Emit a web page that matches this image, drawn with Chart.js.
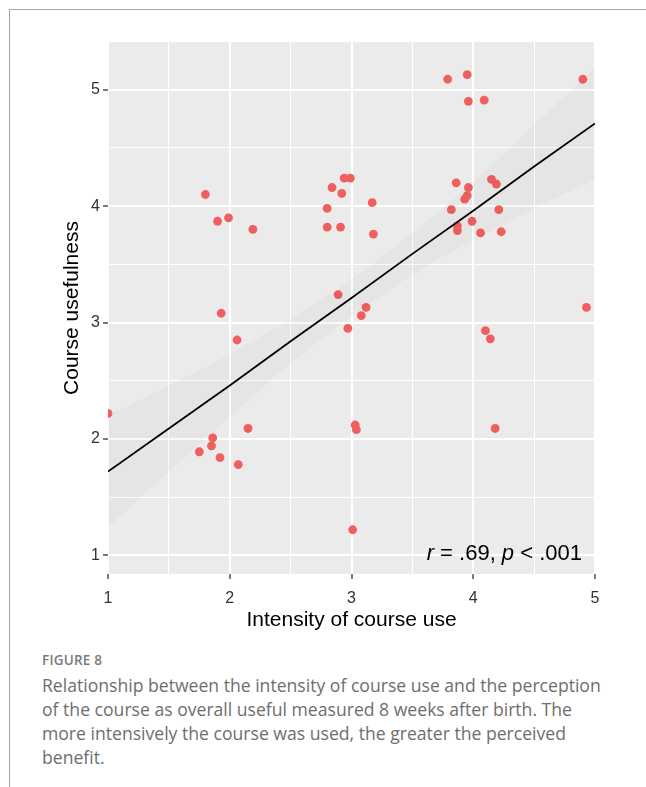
<!DOCTYPE html>
<html>
<head>
<meta charset="utf-8">
<script src="https://cdn.jsdelivr.net/npm/chart.js@4.4.0/dist/chart.umd.min.js"></script>
<style>
  body { margin: 0; background: #fff; }
  #page { position: relative; width: 646px; height: 787px; overflow: hidden; }
  #frame { position: absolute; left: 9px; top: 9px; right: -2px; bottom: -2px;
           border-top: 1px solid #a6a6a6; border-left: 1px solid #a6a6a6; }
  #chart-1 { position: absolute; left: 0; top: 0; }
  #fig { position: absolute; left: 42px; top: 651px; font-family: "Open Sans", sans-serif;
         font-size: 13.5px; font-weight: 600; color: #7a7a7a; letter-spacing: 0.2px; }
  #caption { position: absolute; left: 42px; top: 673px; width: 572px; font-family: "Open Sans", sans-serif;
             font-size: 17.6px; line-height: 24px; color: #6e6e6e; }
</style>
</head>
<body>
<div id="page">
  <div id="frame"></div>
  <canvas id="chart-1" width="646" height="640"></canvas>
  <div id="fig">FIGURE 8</div>
  <div id="caption">Relationship between the intensity of course use and the perception of the course as overall useful measured 8 weeks after birth. The more intensively the course was used, the greater the perceived benefit.</div>
</div>
<script>
// intensity of course use (x) and course usefulness (y), one per participant
const usageX = [1.80,1.90,1.99,2.19,2.80,2.84,2.92,2.94,2.99,2.80,2.91,2.89,1.93,3.79,3.95,3.96,4.09,4.90,3.17,3.18,3.86,3.96,3.95,3.93,4.15,4.19,3.82,4.21,3.99,3.87,3.87,4.06,4.23,3.12,4.93,2.97,2.06,1.00,2.15,1.86,1.85,1.75,1.92,2.07,3.08,4.10,4.14,3.03,3.04,4.18,3.01];
const usefulY = [4.10,3.87,3.90,3.80,3.98,4.16,4.11,4.24,4.24,3.82,3.82,3.24,3.08,5.09,5.13,4.90,4.91,5.09,4.03,3.76,4.20,4.16,4.09,4.06,4.23,4.19,3.97,3.97,3.87,3.83,3.79,3.77,3.78,3.13,3.13,2.95,2.85,2.22,2.09,2.01,1.94,1.89,1.84,1.78,3.06,2.93,2.86,2.12,2.08,2.09,1.22];

// linear fit and its confidence band
const fitX = [1, 1.5, 2, 2.5, 3, 3.5, 4, 4.5, 5];
const fitY = [1.72, 2.09, 2.46, 2.84, 3.21, 3.59, 3.96, 4.34, 4.71];
const fitUpper = [2.20, 2.46, 2.73, 3.03, 3.37, 3.77, 4.21, 4.70, 5.19];
const fitLower = [1.24, 1.72, 2.19, 2.65, 3.05, 3.41, 3.71, 3.98, 4.23];

const xTicks = [1, 1.5, 2, 2.5, 3, 3.5, 4, 4.5, 5];
const yTicks = [1, 1.5, 2, 2.5, 3, 3.5, 4, 4.5, 5];

const toXY = (xs, ys) => xs.map((x, i) => ({x: x, y: ys[i]}));

const panelBg = {
  id: "panelBg",
  beforeDraw(chart) {
    const a = chart.chartArea, ctx = chart.ctx;
    ctx.save();
    ctx.fillStyle = "#EBEBEB";
    ctx.fillRect(a.left, a.top, a.right - a.left, a.bottom - a.top);
    ctx.restore();
  }
};

const statLabel = {
  id: "statLabel",
  afterDatasetsDraw(chart) {
    const a = chart.chartArea, ctx = chart.ctx;
    const parts = [["r", true], [" = .69, ", false], ["p", true], [" < .001", false]];
    ctx.save();
    ctx.fillStyle = "#000";
    ctx.textBaseline = "alphabetic";
    let x = a.right - 13;
    for (let i = parts.length - 1; i >= 0; i--) {
      ctx.font = (parts[i][1] ? "italic " : "") + "22px 'Liberation Sans'";
      const w = ctx.measureText(parts[i][0]).width;
      x -= w;
      ctx.fillText(parts[i][0], x, a.bottom - 14);
    }
    ctx.restore();
  }
};

const isMajor = v => Math.abs(v - Math.round(v)) < 1e-6;

new Chart("chart-1", {
  type: "scatter",
  data: {
    datasets: [{
      type: "line",
      data: toXY(fitX, fitY),
      borderColor: "#000",
      borderWidth: 1.8,
      pointRadius: 0,
      fill: false,
      order: 0
    }, {
      type: "line",
      data: toXY(fitX, fitUpper),
      borderWidth: 0,
      pointRadius: 0,
      cubicInterpolationMode: "monotone",
      backgroundColor: "rgba(70,70,70,0.03)",
      fill: "+1",
      order: 1
    }, {
      type: "line",
      data: toXY(fitX, fitLower),
      borderWidth: 0,
      pointRadius: 0,
      cubicInterpolationMode: "monotone",
      fill: false,
      order: 1
    }, {
      data: toXY(usageX, usefulY),
      backgroundColor: "#EF5F5E",
      borderWidth: 0,
      pointRadius: 4.4,
      order: 2
    }]
  },
  plugins: [panelBg, statLabel],
  options: {
    responsive: false,
    animation: false,
    layout: {padding: {top: 42, right: 51, left: 0, bottom: 0}},
    plugins: {legend: {display: false}, tooltip: {enabled: false}},
    scales: {
      x: {
        min: 1, max: 5,
        afterFit: s => { s.height = 66; },
        afterBuildTicks: s => { s.ticks = xTicks.map(v => ({value: v})); },
        border: {display: false},
        grid: {
          color: "#fff",
          lineWidth: c => isMajor(c.tick.value) ? 2 : 1,
          tickColor: c => isMajor(c.tick.value) ? "#333" : "rgba(0,0,0,0)",
          tickLength: 5,
          tickWidth: 1.3
        },
        ticks: {
          autoSkip: false, maxRotation: 0, padding: 10,
          color: "#333",
          font: {family: "Liberation Sans", size: 16},
          callback: v => isMajor(v) ? String(v) : ""
        },
        title: {
          display: true, text: "Intensity of course use", color: "#000",
          font: {family: "Liberation Sans", size: 21},
          padding: {top: 0, bottom: 7}
        }
      },
      y: {
        min: 0.84, max: 5.41,
        afterFit: s => { s.width = 108; },
        afterBuildTicks: s => { s.ticks = yTicks.map(v => ({value: v})); },
        border: {display: false},
        grid: {
          color: "#fff",
          lineWidth: c => isMajor(c.tick.value) ? 2 : 1,
          tickColor: c => isMajor(c.tick.value) ? "#333" : "rgba(0,0,0,0)",
          tickLength: 5,
          tickWidth: 1.3
        },
        ticks: {
          autoSkip: false, padding: 3,
          color: "#333",
          font: {family: "Liberation Sans", size: 16},
          callback: v => isMajor(v) ? String(v) : ""
        },
        title: {
          display: true, text: "Course usefulness", color: "#000",
          font: {family: "Liberation Sans", size: 21},
          padding: {top: 60, bottom: 0}
        }
      }
    }
  }
});
</script>
</body>
</html>
